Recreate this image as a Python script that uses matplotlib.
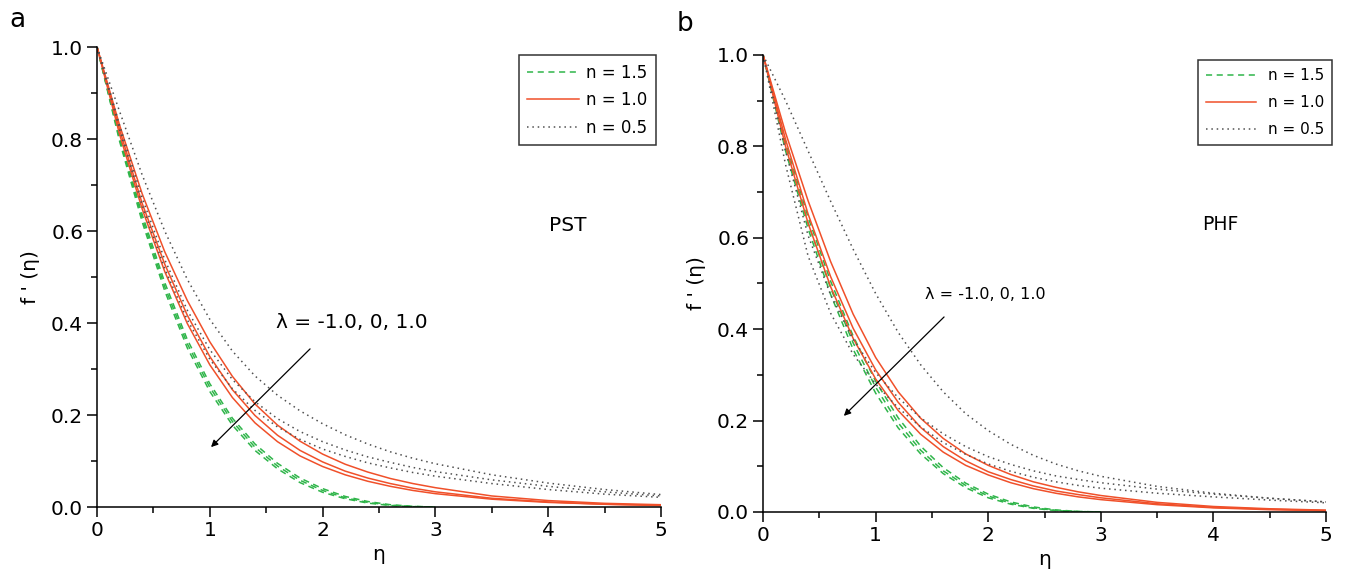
import matplotlib.pyplot as plt
from matplotlib.ticker import MultipleLocator

plt.rcParams['font.family'] = ['DejaVu Sans']

# eta grid for the n = 0.5 and n = 1.0 profiles
eta = [0, 0.2, 0.4, 0.6, 0.8, 1.0, 1.2, 1.4, 1.6, 1.8, 2.0, 2.2, 2.4, 2.6,
       2.8, 3.0, 3.5, 4.0, 4.5, 5.0]
# shorter grid for n = 1.5 (profile reaches zero before eta = 3)
eta_short = [0, 0.2, 0.4, 0.6, 0.8, 1.0, 1.2, 1.4, 1.6, 1.8, 2.0, 2.2, 2.4,
             2.6, 2.8, 3.0]

# ---- PST: lambda = -1.0, 0, 1.0 ----
pst_n15 = [
    [1, 0.805, 0.636, 0.488, 0.364, 0.268, 0.193, 0.137, 0.095, 0.063, 0.040, 0.023, 0.012, 0.005, 0.0015, 0],
    [1, 0.80, 0.628, 0.479, 0.355, 0.260, 0.186, 0.130, 0.089, 0.058, 0.036, 0.020, 0.010, 0.004, 0.001, 0],
    [1, 0.795, 0.620, 0.470, 0.346, 0.251, 0.178, 0.123, 0.083, 0.053, 0.032, 0.018, 0.0085, 0.0033, 0.0008, 0],
]
pst_n10 = [
    [1, 0.83, 0.681, 0.555, 0.449, 0.359, 0.284, 0.224, 0.178, 0.143, 0.115, 0.093, 0.076, 0.062, 0.051, 0.042, 0.024, 0.014, 0.008, 0.005],
    [1, 0.82, 0.660, 0.528, 0.417, 0.327, 0.255, 0.199, 0.156, 0.123, 0.098, 0.078, 0.063, 0.051, 0.041, 0.033, 0.019, 0.011, 0.006, 0.004],
    [1, 0.81, 0.648, 0.512, 0.399, 0.309, 0.238, 0.183, 0.142, 0.111, 0.088, 0.070, 0.056, 0.045, 0.036, 0.029, 0.017, 0.010, 0.006, 0.003],
]
pst_n05 = [
    [1, 0.86, 0.722, 0.600, 0.495, 0.408, 0.339, 0.285, 0.243, 0.209, 0.181, 0.157, 0.137, 0.120, 0.106, 0.094, 0.070, 0.052, 0.038, 0.027],
    [1, 0.83, 0.672, 0.538, 0.428, 0.342, 0.277, 0.229, 0.192, 0.164, 0.142, 0.124, 0.109, 0.097, 0.086, 0.077, 0.059, 0.045, 0.033, 0.024],
    [1, 0.82, 0.656, 0.518, 0.407, 0.321, 0.257, 0.210, 0.174, 0.147, 0.126, 0.110, 0.096, 0.085, 0.075, 0.067, 0.051, 0.038, 0.028, 0.021],
]

# ---- PHF: lambda = -1.0, 0, 1.0 ----
phf_n15 = [
    [1, 0.81, 0.645, 0.505, 0.385, 0.286, 0.206, 0.144, 0.097, 0.063, 0.039, 0.022, 0.011, 0.0045, 0.0012, 0],
    [1, 0.80, 0.632, 0.490, 0.370, 0.273, 0.195, 0.135, 0.090, 0.058, 0.035, 0.019, 0.009, 0.0035, 0.0009, 0],
    [1, 0.79, 0.620, 0.476, 0.356, 0.260, 0.184, 0.127, 0.084, 0.053, 0.031, 0.017, 0.008, 0.003, 0.0007, 0],
]
phf_n10 = [
    [1, 0.83, 0.681, 0.548, 0.433, 0.338, 0.263, 0.205, 0.161, 0.127, 0.102, 0.082, 0.066, 0.054, 0.044, 0.036, 0.021, 0.012, 0.007, 0.004],
    [1, 0.815, 0.652, 0.515, 0.402, 0.311, 0.240, 0.185, 0.143, 0.112, 0.088, 0.071, 0.057, 0.046, 0.038, 0.031, 0.018, 0.010, 0.006, 0.003],
    [1, 0.80, 0.632, 0.493, 0.380, 0.291, 0.222, 0.170, 0.131, 0.102, 0.081, 0.064, 0.051, 0.041, 0.033, 0.027, 0.016, 0.009, 0.005, 0.003],
]
phf_n05 = [
    [1, 0.90, 0.79, 0.68, 0.575, 0.478, 0.393, 0.322, 0.263, 0.215, 0.178, 0.148, 0.124, 0.105, 0.090, 0.078, 0.056, 0.041, 0.030, 0.022],
    [1, 0.79, 0.605, 0.475, 0.378, 0.305, 0.250, 0.206, 0.171, 0.143, 0.121, 0.104, 0.090, 0.079, 0.071, 0.064, 0.050, 0.039, 0.030, 0.022],
    [1, 0.76, 0.56, 0.435, 0.345, 0.280, 0.228, 0.186, 0.152, 0.126, 0.105, 0.089, 0.076, 0.066, 0.058, 0.052, 0.041, 0.033, 0.026, 0.020],
]

n_labels = ['n = 1.5', 'n = 1.0', 'n = 0.5']
lam_text = '\u03bb = -1.0, 0, 1.0'

GREEN = '#2fb54a'
RED = '#f0502a'
GRAY = '#505050'

fig = plt.figure(figsize=(13.46, 5.77), dpi=100)
ax_a = fig.add_axes([0.0721, 0.1213, 0.4190, 0.7972])
ax_b = fig.add_axes([0.5669, 0.1127, 0.4183, 0.7920])


def draw_panel(ax, n15, n10, n05, tag, tag_xy, lam_xy, arrow_from, arrow_to,
               fs_leg, fs_lam, fs_tag, leg_anchor, leg_space, leg_handle,
               leg_textpad):
    for i, y in enumerate(n15):
        ax.plot(eta_short, y, color=GREEN, lw=1.1, linestyle=(0, (4, 3)),
                label=n_labels[0] if i == 0 else None)
    for i, y in enumerate(n10):
        ax.plot(eta, y, color=RED, lw=1.1,
                label=n_labels[1] if i == 0 else None)
    for i, y in enumerate(n05):
        ax.plot(eta, y, color=GRAY, lw=1.1, linestyle=(0, (1, 2.5)),
                label=n_labels[2] if i == 0 else None)

    ax.set_xlim(0, 5)
    ax.set_ylim(0, 1.0)
    ax.xaxis.set_major_locator(MultipleLocator(1))
    ax.xaxis.set_minor_locator(MultipleLocator(0.5))
    ax.yaxis.set_major_locator(MultipleLocator(0.2))
    ax.yaxis.set_minor_locator(MultipleLocator(0.1))
    ax.xaxis.set_major_formatter(plt.FuncFormatter(lambda v, p: '%d' % v))
    ax.yaxis.set_major_formatter(plt.FuncFormatter(lambda v, p: '%.1f' % v))
    ax.tick_params(which='major', direction='out', length=7, width=1.1,
                   labelsize=14.5, pad=3)
    ax.tick_params(which='minor', direction='out', length=4.5, width=1.1)
    ax.spines['top'].set_visible(False)
    ax.spines['right'].set_visible(False)
    ax.spines['left'].set_linewidth(1.1)
    ax.spines['bottom'].set_linewidth(1.1)

    ax.set_xlabel('\u03b7', fontsize=14.5, labelpad=4)
    ax.set_ylabel("f ' (\u03b7)", fontsize=14.5, labelpad=8)

    leg = ax.legend(loc='upper right', bbox_to_anchor=leg_anchor,
                    fontsize=fs_leg, frameon=True, fancybox=False,
                    handlelength=leg_handle, handletextpad=leg_textpad,
                    borderpad=0.5, labelspacing=leg_space, borderaxespad=0.3)
    leg.get_frame().set_edgecolor('black')
    leg.get_frame().set_linewidth(1.1)

    ax.text(tag_xy[0], tag_xy[1], tag, fontsize=fs_tag, ha='center',
            va='center')
    ax.text(lam_xy[0], lam_xy[1], lam_text, fontsize=fs_lam, ha='left',
            va='center')
    ax.annotate('', xy=arrow_to, xytext=arrow_from,
                arrowprops=dict(arrowstyle='-|>', color='black', lw=0.9,
                                mutation_scale=10))


draw_panel(ax_a, pst_n15, pst_n10, pst_n05, 'PST', (4.17, 0.613),
           (1.59, 0.402), (1.906, 0.348), (0.993, 0.126), 12, 14.5, 14.5,
           (1.0, 0.993), 0.58, 3.1, 0.45)
draw_panel(ax_b, phf_n15, phf_n10, phf_n05, 'PHF', (4.06, 0.628),
           (1.44, 0.475), (1.625, 0.431), (0.70, 0.206), 11, 11.5, 13.5,
           (1.018, 0.998), 0.78, 3.3, 0.75)

fig.text(0.0126, 0.965, 'a', fontsize=19, ha='center', va='center')
fig.text(0.5089, 0.958, 'b', fontsize=19, ha='center', va='center')

fig.savefig('out.png', dpi=100)
